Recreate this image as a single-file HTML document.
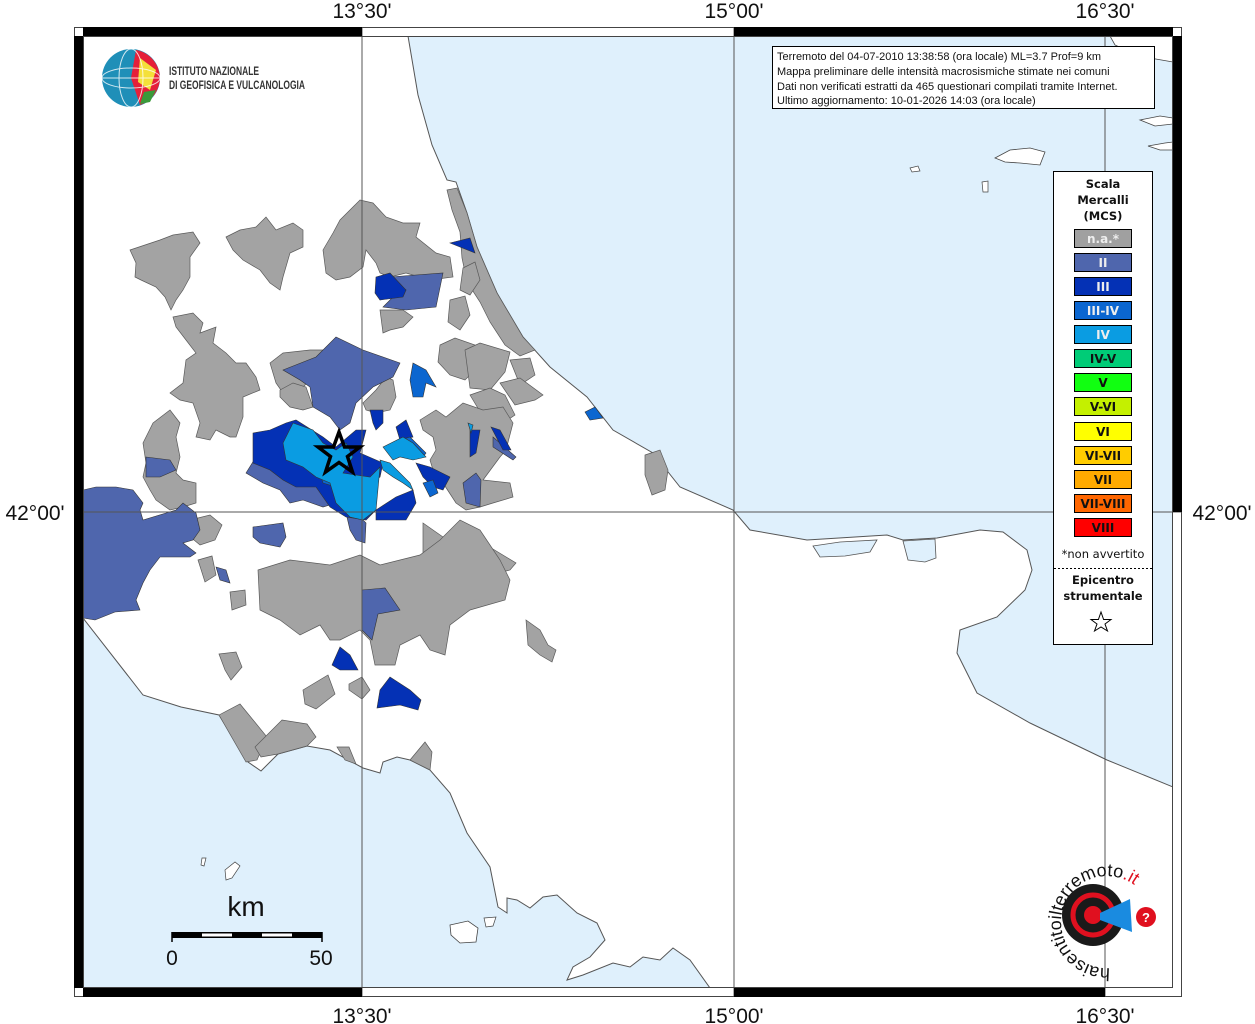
<!DOCTYPE html>
<html><head><meta charset="utf-8"><style>
html,body{margin:0;padding:0;background:#fff;}
svg{display:block;font-family:"Liberation Sans",sans-serif;}
</style></head><body>
<svg width="1255" height="1024" viewBox="0 0 1255 1024" xmlns="http://www.w3.org/2000/svg">
<rect width="1255" height="1024" fill="#fff"/>
<defs><clipPath id="map"><rect x="83" y="36" width="1090" height="952"/></clipPath></defs>
<g clip-path="url(#map)">
<rect x="83" y="36" width="1090" height="952" fill="#fff"/>
<!-- Adriatic -->
<path d="M408,36 L418,95 L432,145 L447,180 L456,182 L467,213 L477,247 L497,293 L523,337 L550,367 L587,397 L613,430 L653,453 L680,487 L733,510 L750,530 L807,540 L887,535 L903,540 L937,538 L980,530 L1003,532 L1027,550 L1032,570 L1025,590 L997,617 L960,630 L957,653 L977,693 L1030,723 L1107,760 L1173,787 L1173,36 Z" fill="#dff0fc" stroke="#555" stroke-width="1"/>
<path d="M813,546 L840,542 L877,540 L870,552 L845,556 L820,557 Z" fill="#dff0fc" stroke="#555" stroke-width="0.8"/>
<path d="M903,541 L935,539 L936,558 L925,562 L908,560 Z" fill="#dff0fc" stroke="#555" stroke-width="0.8"/>
<!-- Tyrrhenian -->
<path d="M83,618 L143,695 L181,707 L219,715 L248,762 L261,771 L278,754 L307,746 L330,750 L363,768 L380,773 L383,762 L397,757 L410,760 L430,770 L450,793 L467,833 L490,867 L498,907 L507,913 L507,898 L517,900 L530,908 L543,897 L557,895 L577,913 L597,923 L605,940 L590,957 L573,967 L567,980 L583,975 L613,963 L630,967 L643,957 L660,960 L673,948 L690,960 L710,988 L83,988 Z" fill="#dff0fc" stroke="#555" stroke-width="1"/>
<path d="M450,925 L468,921 L478,928 L476,942 L460,943 L451,935 Z" fill="#fff" stroke="#444" stroke-width="0.8"/>
<path d="M484,918 L496,917 L493,926 L486,927 Z" fill="#fff" stroke="#444" stroke-width="0.7"/>
<path d="M225,870 L235,862 L240,866 L232,878 L226,880 Z" fill="#fff" stroke="#444" stroke-width="0.7"/>
<path d="M202,858 L206,858 L204,866 L201,865 Z" fill="#fff" stroke="#444" stroke-width="0.7"/>
<!-- Croatian islands -->
<path d="M995,158 L1010,150 L1030,148 L1045,152 L1040,165 L1020,163 L1005,162 Z" fill="#fff" stroke="#444" stroke-width="0.8"/>
<path d="M1110,36 L1173,36 L1173,62 L1150,58 L1130,52 L1115,45 Z" fill="#fff" stroke="#444" stroke-width="0.8"/>
<path d="M1140,120 L1160,116 L1173,118 L1173,124 L1155,126 Z" fill="#fff" stroke="#444" stroke-width="0.8"/>
<path d="M1148,146 L1165,143 L1173,142 L1173,150 L1160,150 Z" fill="#fff" stroke="#444" stroke-width="0.8"/>
<path d="M910,168 L918,166 L920,171 L912,172 Z" fill="#fff" stroke="#444" stroke-width="0.7"/>
<path d="M982,182 L988,181 L988,192 L983,192 Z" fill="#fff" stroke="#444" stroke-width="0.7"/>
<!-- Gray municipalities -->
<g fill="#a3a3a3" stroke="#5a5a5a" stroke-width="0.7">
<path d="M130,250 L160,240 L173,235 L193,232 L200,243 L190,257 L190,277 L183,290 L176,300 L171,310 L165,297 L156,287 L141,280 L135,277 L136,263 Z"/>
<path d="M226,237 L240,230 L256,227 L266,217 L276,230 L293,223 L303,230 L303,247 L290,253 L283,277 L280,290 L270,283 L260,270 L243,260 L233,250 Z"/>
<path d="M323,250 L333,233 L340,220 L360,200 L373,203 L386,217 L403,223 L420,223 L416,237 L436,253 L450,257 L453,277 L430,280 L406,273 L390,277 L380,273 L376,263 L366,250 L363,267 L350,277 L336,280 L326,273 Z"/>
<path d="M447,190 L457,188 L467,213 L477,247 L497,293 L523,337 L535,350 L520,356 L505,345 L490,322 L480,302 L467,282 L462,258 L460,232 L452,210 Z"/>
<path d="M463,268 L475,262 L480,280 L470,295 L460,290 Z"/>
<path d="M450,300 L465,296 L470,315 L460,330 L448,322 Z"/>
<path d="M440,345 L455,338 L475,345 L480,365 L465,380 L450,375 L438,362 Z"/>
<path d="M465,350 L480,343 L510,352 L505,372 L490,390 L470,388 Z"/>
<path d="M510,360 L530,358 L535,375 L520,385 Z"/>
<path d="M500,383 L520,378 L543,395 L535,400 L515,405 Z"/>
<path d="M470,395 L490,388 L505,395 L515,415 L500,425 L485,420 Z"/>
<path d="M420,420 L436,410 L446,417 L463,403 L483,410 L503,407 L513,423 L506,450 L500,457 L483,480 L510,483 L513,497 L493,503 L480,507 L466,510 L456,503 L443,483 L433,470 L430,460 L436,450 L433,437 L423,430 Z"/>
<path d="M380,310 L403,310 L413,317 L403,327 L390,330 L383,333 Z"/>
<path d="M173,317 L193,313 L203,323 L200,333 L216,327 L213,343 L226,353 L236,363 L246,363 L256,377 L260,390 L243,397 L243,417 L236,437 L230,437 L216,430 L210,440 L196,437 L200,423 L193,403 L180,400 L170,393 L183,383 L186,360 L196,353 L186,340 L176,327 Z"/>
<path d="M143,443 L153,423 L170,410 L180,423 L176,437 L180,457 L176,473 L183,480 L196,483 L196,503 L183,507 L170,510 L156,500 L150,490 L143,477 L146,463 Z"/>
<path d="M270,363 L283,353 L310,350 L340,350 L326,367 L310,380 L300,390 L283,393 L276,383 Z"/>
<path d="M280,390 L293,383 L306,387 L313,407 L303,410 L290,407 L280,397 Z"/>
<path d="M363,403 L376,390 L386,377 L393,380 L396,397 L390,410 L376,413 L366,410 Z"/>
<path d="M645,455 L660,450 L668,470 L665,490 L652,495 L645,475 Z"/>
<path d="M423,523 L443,537 L466,557 L483,543 L516,563 L510,570 L483,577 L476,590 L460,587 L436,583 L423,557 Z"/>
<path d="M258,570 L290,560 L330,565 L360,555 L380,565 L400,560 L420,555 L440,540 L460,520 L480,530 L490,545 L500,560 L510,580 L505,600 L470,610 L450,625 L445,655 L430,650 L420,635 L400,645 L395,665 L375,665 L370,640 L360,630 L340,640 L330,640 L320,625 L300,635 L280,620 L260,610 Z"/>
<path d="M190,520 L210,515 L222,525 L215,540 L200,545 L188,535 Z"/>
<path d="M198,560 L212,556 L216,575 L205,582 Z"/>
<path d="M230,592 L245,590 L246,605 L232,610 Z"/>
<path d="M526,620 L540,630 L548,645 L556,650 L552,662 L540,655 L528,645 Z"/>
<path d="M219,654 L236,652 L242,667 L231,680 L225,670 Z"/>
<path d="M303,690 L328,675 L335,694 L316,709 L305,704 Z"/>
<path d="M349,684 L362,677 L370,690 L362,699 L349,690 Z"/>
<path d="M219,715 L240,704 L267,737 L257,760 L246,762 Z"/>
<path d="M255,747 L282,720 L307,724 L316,737 L307,746 L278,754 L261,757 Z"/>
<path d="M337,747 L349,747 L356,764 L345,760 Z"/>
<path d="M410,760 L425,742 L432,752 L430,770 Z"/>
</g>
<!-- II -->
<g fill="#4f66ad" stroke="#333" stroke-width="0.6">
<path d="M83,490 L96,487 L116,487 L133,490 L143,503 L140,510 L143,520 L176,510 L183,503 L196,513 L200,530 L193,540 L183,543 L196,553 L190,557 L176,557 L160,557 L150,570 L143,583 L136,600 L140,610 L115,612 L95,620 L83,618 Z"/>
<path d="M283,370 L316,357 L336,337 L363,350 L400,363 L393,377 L373,387 L356,403 L350,423 L340,430 L330,417 L313,407 L310,387 L300,380 Z"/>
<path d="M246,473 L256,457 L270,453 L290,463 L300,480 L316,483 L336,490 L336,503 L323,507 L303,500 L290,503 L280,490 L263,483 Z"/>
<path d="M346,513 L360,517 L366,523 L365,543 L356,540 L350,530 Z"/>
<path d="M390,277 L443,273 L436,307 L406,310 L383,307 L393,297 L406,290 Z"/>
<path d="M146,457 L170,460 L176,470 L160,477 L146,477 Z"/>
<path d="M253,527 L283,523 L286,537 L280,547 L260,543 L253,537 Z"/>
<path d="M216,567 L226,570 L230,583 L220,580 Z"/>
<path d="M362,590 L385,588 L400,610 L378,614 L372,640 L362,630 Z"/>
<path d="M463,483 L476,473 L481,480 L480,507 L466,503 Z"/>
<path d="M493,437 L516,457 L513,460 L493,447 Z"/>
</g>
<!-- III -->
<g fill="#0431b5" stroke="#333" stroke-width="0.6">
<path d="M253,433 L270,430 L286,423 L296,420 L323,437 L336,447 L356,430 L366,430 L360,453 L383,463 L380,477 L370,483 L376,510 L366,520 L346,517 L330,507 L316,487 L296,487 L283,480 L270,470 L253,463 Z"/>
<path d="M376,277 L390,273 L406,290 L403,297 L380,300 L375,293 Z"/>
<path d="M450,243 L470,238 L475,253 Z"/>
<path d="M396,427 L406,420 L413,437 L400,440 Z"/>
<path d="M416,463 L430,467 L450,477 L443,490 L433,487 L423,477 Z"/>
<path d="M396,497 L413,490 L416,503 L406,520 L376,520 L376,510 Z"/>
<path d="M370,410 L383,410 L383,423 L376,430 L373,423 Z"/>
<path d="M470,430 L480,430 L476,453 L470,457 Z"/>
<path d="M491,427 L500,430 L511,450 L503,450 Z"/>
<path d="M332,665 L340,647 L350,655 L358,670 L340,670 Z"/>
<path d="M377,708 L380,690 L390,677 L410,690 L421,700 L418,710 L400,705 Z"/>
</g>
<!-- III-IV -->
<g fill="#0b66d0" stroke="#333" stroke-width="0.6">
<path d="M316,460 L336,467 L346,477 L336,487 L323,483 Z"/>
<path d="M400,440 L410,437 L426,453 L423,457 L410,453 Z"/>
<path d="M423,483 L433,480 L438,493 L430,497 Z"/>
<path d="M413,363 L426,370 L436,387 L426,383 L423,397 L413,397 L410,380 Z"/>
<path d="M585,412 L595,407 L603,418 L590,420 Z"/>
</g>
<!-- IV -->
<g fill="#0a9ce2" stroke="#333" stroke-width="0.6">
<path d="M283,443 L293,423 L313,430 L323,443 L336,450 L346,443 L353,457 L343,473 L370,477 L380,467 L376,510 L363,520 L350,517 L336,503 L330,483 L316,477 L303,467 L286,460 Z"/>
<path d="M383,447 L403,437 L413,443 L426,457 L413,460 L400,457 L393,460 Z"/>
<path d="M380,460 L390,463 L410,483 L413,490 L403,483 L393,477 L383,470 Z"/>
<path d="M468,423 L473,425 L471,433 Z"/>
</g>
</g>
<!-- grid -->
<g stroke="#555" stroke-width="1">
<line x1="362" y1="27" x2="362" y2="997"/>
<line x1="734" y1="27" x2="734" y2="997"/>
<line x1="1105" y1="27" x2="1105" y2="997"/>
<line x1="74" y1="512" x2="1182" y2="512"/>
</g>
<!-- frame -->
<rect x="74.5" y="27.5" width="1107" height="969" fill="none" stroke="#444"/>
<rect x="83" y="27" width="279" height="9" fill="#000"/>
<rect x="734" y="27" width="439" height="9" fill="#000"/>
<rect x="83" y="988" width="279" height="9" fill="#000"/>
<rect x="734" y="988" width="371" height="9" fill="#000"/>
<rect x="74" y="36" width="9" height="952" fill="#000"/>
<rect x="1173" y="36" width="9" height="476" fill="#000"/>
<rect x="83.5" y="36.5" width="1089" height="951" fill="none" stroke="#444"/>
<!-- axis labels -->
<g font-size="21" fill="#111" text-anchor="middle">
<text x="362" y="18">13°30'</text><text x="734" y="18">15°00'</text><text x="1105" y="18">16°30'</text>
<text x="362" y="1023">13°30'</text><text x="734" y="1023">15°00'</text><text x="1105" y="1023">16°30'</text>
<text x="35" y="520">42°00'</text><text x="1222" y="520">42°00'</text>
</g>
<!-- INGV logo -->
<circle cx="131" cy="78" r="29" fill="#1f8fb8"/>
<path d="M136,50 A29,29 0 0,1 160,78 A29,29 0 0,1 140,105 L131,78 Z" fill="#e5203a"/>
<path d="M140,58 L156,70 L150,90 L138,82 Z" fill="#f4e03a"/>
<path d="M144,92 L156,90 L150,102 L140,104 Z" fill="#3a9a3a"/>
<g stroke="#fff" stroke-width="1" fill="none" opacity="0.8">
<ellipse cx="131" cy="78" rx="12" ry="29"/><ellipse cx="131" cy="78" rx="29" ry="10"/><line x1="102" y1="78" x2="160" y2="78"/>
</g>
<text x="169" y="75" font-size="12" fill="#333" font-weight="bold" textLength="90" lengthAdjust="spacingAndGlyphs">ISTITUTO NAZIONALE</text>
<text x="169" y="89" font-size="12" fill="#333" font-weight="bold" textLength="136" lengthAdjust="spacingAndGlyphs">DI GEOFISICA E VULCANOLOGIA</text>
<!-- info box -->
<rect x="772.5" y="46.5" width="382" height="62" fill="#fff" stroke="#000"/>
<g font-size="11" fill="#111">
<text x="777" y="60">Terremoto del 04-07-2010 13:38:58 (ora locale) ML=3.7 Prof=9 km</text>
<text x="777" y="75">Mappa preliminare delle intensità macrosismiche stimate nei comuni</text>
<text x="777" y="90">Dati non verificati estratti da 465 questionari compilati tramite Internet.</text>
<text x="777" y="104">Ultimo aggiornamento: 10-01-2026 14:03 (ora locale)</text>
</g>
<!-- legend -->
<rect x="1053.5" y="171.5" width="99" height="473" fill="#fff" stroke="#000"/>
<g font-family="'DejaVu Sans',sans-serif" font-weight="bold" font-size="11.5" fill="#111" text-anchor="middle">
<text x="1103" y="188">Scala</text><text x="1103" y="204">Mercalli</text><text x="1103" y="220">(MCS)</text>
</g>
<g stroke="#000" stroke-width="1">
<rect x="1074.5" y="229.5" width="57" height="18" fill="#a0a0a0"/>
<rect x="1074.5" y="253.5" width="57" height="18" fill="#4f66ad"/>
<rect x="1074.5" y="277.5" width="57" height="18" fill="#0431b5"/>
<rect x="1074.5" y="301.5" width="57" height="18" fill="#0b66d0"/>
<rect x="1074.5" y="325.5" width="57" height="18" fill="#0a9ce2"/>
<rect x="1074.5" y="349.5" width="57" height="18" fill="#00cc77"/>
<rect x="1074.5" y="373.5" width="57" height="18" fill="#11ff11"/>
<rect x="1074.5" y="397.5" width="57" height="18" fill="#c4f000"/>
<rect x="1074.5" y="422.5" width="57" height="18" fill="#ffff00"/>
<rect x="1074.5" y="446.5" width="57" height="18" fill="#ffcc00"/>
<rect x="1074.5" y="470.5" width="57" height="18" fill="#ffaa00"/>
<rect x="1074.5" y="494.5" width="57" height="18" fill="#ff6600"/>
<rect x="1074.5" y="518.5" width="57" height="18" fill="#ff0000"/>
</g>
<g font-family="'DejaVu Sans',sans-serif" font-weight="bold" font-size="12" text-anchor="middle">
<text x="1103" y="243" fill="#eee">n.a.*</text>
<text x="1103" y="267" fill="#eee">II</text>
<text x="1103" y="291" fill="#eee">III</text>
<text x="1103" y="315" fill="#eee">III-IV</text>
<text x="1103" y="339" fill="#eee">IV</text>
<text x="1103" y="363" fill="#111">IV-V</text>
<text x="1103" y="387" fill="#111">V</text>
<text x="1103" y="411" fill="#111">V-VI</text>
<text x="1103" y="436" fill="#111">VI</text>
<text x="1103" y="460" fill="#111">VI-VII</text>
<text x="1103" y="484" fill="#111">VII</text>
<text x="1103" y="508" fill="#111">VII-VIII</text>
<text x="1103" y="532" fill="#111">VIII</text>
</g>
<text x="1103" y="558" font-family="'DejaVu Sans',sans-serif" font-size="11.5" fill="#111" text-anchor="middle">*non avvertito</text>
<line x1="1054" y1="568.5" x2="1152" y2="568.5" stroke="#000" stroke-dasharray="2,2"/>
<g font-family="'DejaVu Sans',sans-serif" font-weight="bold" font-size="11.5" fill="#111" text-anchor="middle">
<text x="1103" y="584">Epicentro</text><text x="1103" y="600">strumentale</text>
</g>
<path d="M1101,612 L1103.6,619.5 L1111,619.5 L1105,624 L1107.5,631 L1101,627 L1094.5,631 L1097,624 L1091,619.5 L1098.4,619.5 Z" fill="#fff" stroke="#000" stroke-width="1"/>
<!-- epicenter star -->
<path d="M339,432 L344.5,447 L360,447 L347.5,456.5 L352.5,472 L339,462.5 L325.5,472 L330.5,456.5 L318,447 L333.5,447 Z" fill="none" stroke="#000" stroke-width="3.5"/>
<!-- scale bar -->
<text x="246" y="916" font-size="28" text-anchor="middle" fill="#111">km</text>
<rect x="172" y="932" width="150" height="6" fill="#000"/>
<rect x="202" y="933.5" width="30" height="3" fill="#fff"/>
<rect x="262" y="933.5" width="30" height="3" fill="#fff"/>
<line x1="172" y1="932" x2="172" y2="942" stroke="#000" stroke-width="1.5"/>
<line x1="322" y1="932" x2="322" y2="942" stroke="#000" stroke-width="1.5"/>
<text x="172" y="965" font-size="21" text-anchor="middle" fill="#111">0</text>
<text x="321" y="965" font-size="21" text-anchor="middle" fill="#111">50</text>
<!-- haisentito logo -->
<defs><path id="arc" d="M1110,968 A46,46 0 1,1 1140,890"/></defs>
<circle cx="1093" cy="915" r="31" fill="#1a1a1a"/>
<circle cx="1093" cy="915" r="20" fill="none" stroke="#e0101f" stroke-width="5"/>
<circle cx="1093" cy="915" r="9" fill="#e0101f"/>
<path d="M1100,913 L1130,899 L1132,932 L1100,920 Z" fill="#1a8be0"/>
<circle cx="1146" cy="917" r="10" fill="#e0101f"/>
<text x="1146" y="922" font-size="13" font-weight="bold" fill="#fff" text-anchor="middle">?</text>
<text font-size="18" fill="#111"><textPath href="#arc" startOffset="0">haisentitoilterremoto<tspan fill="#e0101f">.it</tspan></textPath></text>
</svg>
</body></html>
